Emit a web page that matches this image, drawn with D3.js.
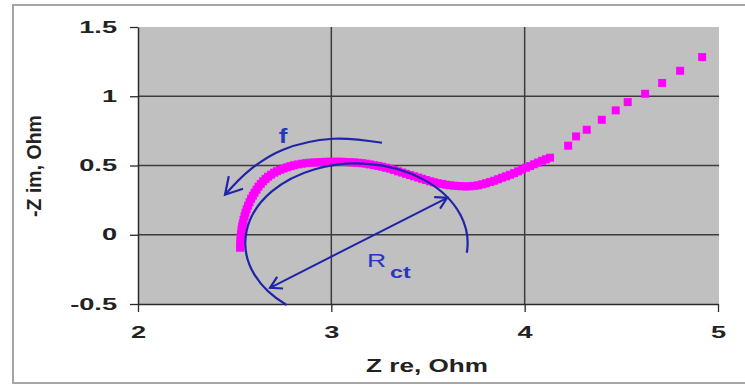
<!DOCTYPE html>
<html>
<head>
<meta charset="utf-8">
<script src="https://cdn.jsdelivr.net/npm/d3@7"></script>
<style>
  html, body { margin: 0; padding: 0; background: #fff; }
  svg { display: block; }
  text { font-family: "Liberation Sans", Arial, sans-serif; }
</style>
</head>
<body>
<svg id="chart" width="745" height="385"></svg>
<script>
// ---- data ----
const zRe = [2.528, 2.529, 2.530, 2.531, 2.533, 2.535, 2.538, 2.542, 2.546, 2.551,
             2.556, 2.562, 2.569, 2.577, 2.585, 2.594, 2.603, 2.613, 2.623, 2.635,
             2.647, 2.660, 2.673, 2.688, 2.704, 2.719, 2.735, 2.753, 2.771, 2.789,
             2.807, 2.827, 2.848, 2.869, 2.890, 2.910, 2.931, 2.952, 2.973, 2.993,
             3.014, 3.035, 3.055, 3.076, 3.097, 3.117, 3.138, 3.159, 3.180, 3.200,
             3.221, 3.242, 3.262, 3.283, 3.304, 3.324, 3.345, 3.366, 3.386, 3.407,
             3.428, 3.449, 3.469, 3.490, 3.511, 3.531, 3.552, 3.573, 3.593, 3.614,
             3.635, 3.656, 3.676, 3.697, 3.718, 3.738, 3.759, 3.780, 3.800, 3.821,
             3.842, 3.862, 3.883, 3.904, 3.924, 3.945, 3.966, 3.986, 4.007, 4.028,
             4.049, 4.069, 4.090, 4.110, 4.131,
             4.225, 4.266, 4.321, 4.399, 4.471, 4.533, 4.623, 4.711, 4.804, 4.918];
const zIm = [-0.094, -0.068, -0.043, -0.018, 0.007, 0.032, 0.058, 0.083, 0.108, 0.133,
             0.159, 0.184, 0.209, 0.235, 0.260, 0.282, 0.303, 0.325, 0.347, 0.367,
             0.386, 0.403, 0.419, 0.434, 0.448, 0.459, 0.469, 0.478, 0.487, 0.495,
             0.502, 0.508, 0.513, 0.517, 0.520, 0.522, 0.523, 0.525, 0.527, 0.527,
             0.527, 0.527, 0.527, 0.525, 0.523, 0.522, 0.520, 0.517, 0.513, 0.508,
             0.502, 0.497, 0.491, 0.484, 0.477, 0.468, 0.458, 0.449, 0.440, 0.431,
             0.422, 0.413, 0.404, 0.395, 0.386, 0.379, 0.372, 0.367, 0.361, 0.357,
             0.354, 0.352, 0.350, 0.349, 0.350, 0.353, 0.357, 0.364, 0.372, 0.381,
             0.390, 0.401, 0.412, 0.422, 0.433, 0.445, 0.458, 0.471, 0.484, 0.496,
             0.509, 0.521, 0.534, 0.545, 0.556,
             0.643, 0.710, 0.758, 0.830, 0.898, 0.958, 1.018, 1.096, 1.184, 1.283];
const xTicks = [2, 3, 4, 5];
const yTicks = [-0.5, 0, 0.5, 1, 1.5];
const xTitle = "Z re, Ohm";
const yTitle = "-Z im, Ohm";

// annotations (data units)
const arcCenter = [3.13, -0.06];
const arcRadius = 0.575;
const arcAngles = [-7, 231];            // degrees, start -> end (counter-clockwise)
const rctArrow = [[2.683, -0.383], [3.599, 0.267]];
const fArrowX = [3.262, 3.009, 2.750, 2.579, 2.450];
const fArrowY = [0.664, 0.693, 0.614, 0.469, 0.289];
const fLabel = {text: "f", x: 2.750, y: 0.664};
const rLabel = {text: "R", sub: "ct", x: 3.185, y: -0.231, subX: 3.304, subY: -0.310};

// ---- layout ----
const svg = d3.select("#chart");
const L = 138, R = 718, T = 27, B = 304;
const x = d3.scaleLinear().domain([2, 5]).range([L, R]);
const y = d3.scaleLinear().domain([-0.5, 1.5]).range([B, T]);

// outer frame
svg.append("rect").attr("x", 13).attr("y", 5).attr("width", 760).attr("height", 378)
  .attr("fill", "#fff").attr("stroke", "#a6a6a6").attr("stroke-width", 2);

// plot area
svg.append("rect").attr("x", L).attr("y", T).attr("width", R - L + 1).attr("height", B - T)
  .attr("fill", "#c0c0c0");

// gridlines
const grid = svg.append("g");
grid.selectAll("line.h").data(yTicks.filter(d => d > -0.5 && d < 1.5)).join("line")
  .attr("x1", L).attr("x2", R + 1).attr("y1", d => y(d)).attr("y2", d => y(d))
  .attr("stroke", "#3c3c3c").attr("stroke-width", 1.5);
grid.selectAll("line.v").data(xTicks.filter(d => d > 2 && d < 5)).join("line")
  .attr("x1", d => x(d)).attr("x2", d => x(d)).attr("y1", T).attr("y2", B)
  .attr("stroke", "#3c3c3c").attr("stroke-width", 1.5);

// axes
const SX = 1.7;
const xAxis = svg.append("g").attr("transform", `translate(0,${B})`)
  .call(d3.axisBottom(x).tickValues(xTicks).tickFormat(d => String(d)).tickSize(8).tickSizeOuter(0));
const yAxis = svg.append("g").attr("transform", `translate(${L},0)`)
  .call(d3.axisLeft(y).tickValues(yTicks).tickFormat(d => String(d)).tickSize(8).tickSizeOuter(0));
[xAxis, yAxis].forEach(g => {
  g.select(".domain").attr("stroke", "#2a2a2a").attr("stroke-width", 1.5);
  g.selectAll(".tick line").attr("stroke", "#2a2a2a").attr("stroke-width", 1.3);
  g.selectAll(".tick text").attr("fill", "#222").attr("font-size", 16).attr("font-weight", "bold")
    .attr("font-family", "'Liberation Sans', Arial, sans-serif");
});
xAxis.selectAll(".tick text").attr("y", 23).attr("transform", `scale(${SX},1)`);
yAxis.selectAll(".tick text").attr("x", -21 / SX).attr("transform", `scale(${SX},1)`);

// axis titles
svg.append("text").attr("transform", `translate(427,372) scale(1.45,1)`)
  .attr("text-anchor", "middle").attr("font-size", 18).attr("font-weight", "bold")
  .attr("fill", "#222").text(xTitle);
svg.append("text").attr("transform", `translate(41,166) rotate(-90)`)
  .attr("text-anchor", "middle").attr("font-size", 19.5).attr("font-weight", "bold")
  .attr("fill", "#222").text(yTitle);

// data points
const pts = zRe.map((d, i) => [d, zIm[i]]);
const S = 8;
svg.append("g").selectAll("rect").data(pts).join("rect")
  .attr("x", d => x(d[0]) - S / 2).attr("y", d => y(d[1]) - S / 2)
  .attr("width", S).attr("height", S).attr("fill", "#ff00ff");

// ---- annotations ----
const blue = "#1f24a8";
const defs = svg.append("defs");
function chevron(id, len) {
  const a = 30 * Math.PI / 180;
  const m = defs.append("marker").attr("id", id).attr("markerUnits", "userSpaceOnUse")
    .attr("viewBox", `${-len - 2} ${-len - 2} ${2 * len + 4} ${2 * len + 4}`)
    .attr("markerWidth", 2 * len + 4).attr("markerHeight", 2 * len + 4)
    .attr("refX", 0).attr("refY", 0).attr("orient", "auto-start-reverse");
  m.append("path")
    .attr("d", `M${-len * Math.cos(a)},${-len * Math.sin(a)} L0,0 L${-len * Math.cos(a)},${len * Math.sin(a)}`)
    .attr("fill", "none").attr("stroke", blue).attr("stroke-width", 2.2);
}
chevron("headR", 13);
chevron("headF", 19);

// big semicircle arc
const rx = x(arcCenter[0] + arcRadius) - x(arcCenter[0]);
const ry = y(arcCenter[1]) - y(arcCenter[1] + arcRadius);
const p = ang => [x(arcCenter[0] + arcRadius * Math.cos(ang * Math.PI / 180)),
                  y(arcCenter[1] + arcRadius * Math.sin(ang * Math.PI / 180))];
const a0 = p(arcAngles[0]), a1 = p(arcAngles[1]);
svg.append("path")
  .attr("d", `M${a0[0]},${a0[1]} A${rx},${ry} 0 1 0 ${a1[0]},${a1[1]}`)
  .attr("fill", "none").attr("stroke", blue).attr("stroke-width", 2.2);

// Rct double arrow
svg.append("line")
  .attr("x1", x(rctArrow[0][0])).attr("y1", y(rctArrow[0][1]))
  .attr("x2", x(rctArrow[1][0])).attr("y2", y(rctArrow[1][1]))
  .attr("stroke", blue).attr("stroke-width", 2)
  .attr("marker-start", "url(#headR)").attr("marker-end", "url(#headR)");

// f curved arrow
const fLine = d3.line().x(d => x(d[0])).y(d => y(d[1])).curve(d3.curveCatmullRom.alpha(0.5));
svg.append("path").attr("d", fLine(fArrowX.map((d, i) => [d, fArrowY[i]])))
  .attr("fill", "none").attr("stroke", blue).attr("stroke-width", 2.2)
  .attr("marker-end", "url(#headF)");

// labels
svg.append("text").attr("transform", `translate(${x(fLabel.x)},${y(fLabel.y)}) scale(1.3,1)`)
  .attr("text-anchor", "middle").attr("font-size", 20).attr("font-weight", "bold")
  .attr("fill", "#2a36c0").text(fLabel.text);
svg.append("text").attr("transform", `translate(${x(rLabel.x)},${y(rLabel.y)}) scale(1.4,1)`)
  .attr("font-size", 19).attr("fill", "#2a36c0").text(rLabel.text);
svg.append("text").attr("transform", `translate(${x(rLabel.subX)},${y(rLabel.subY)}) scale(1.45,1)`)
  .attr("font-size", 16).attr("font-weight", "bold").attr("fill", "#2a36c0").text(rLabel.sub);
</script>
</body>
</html>
